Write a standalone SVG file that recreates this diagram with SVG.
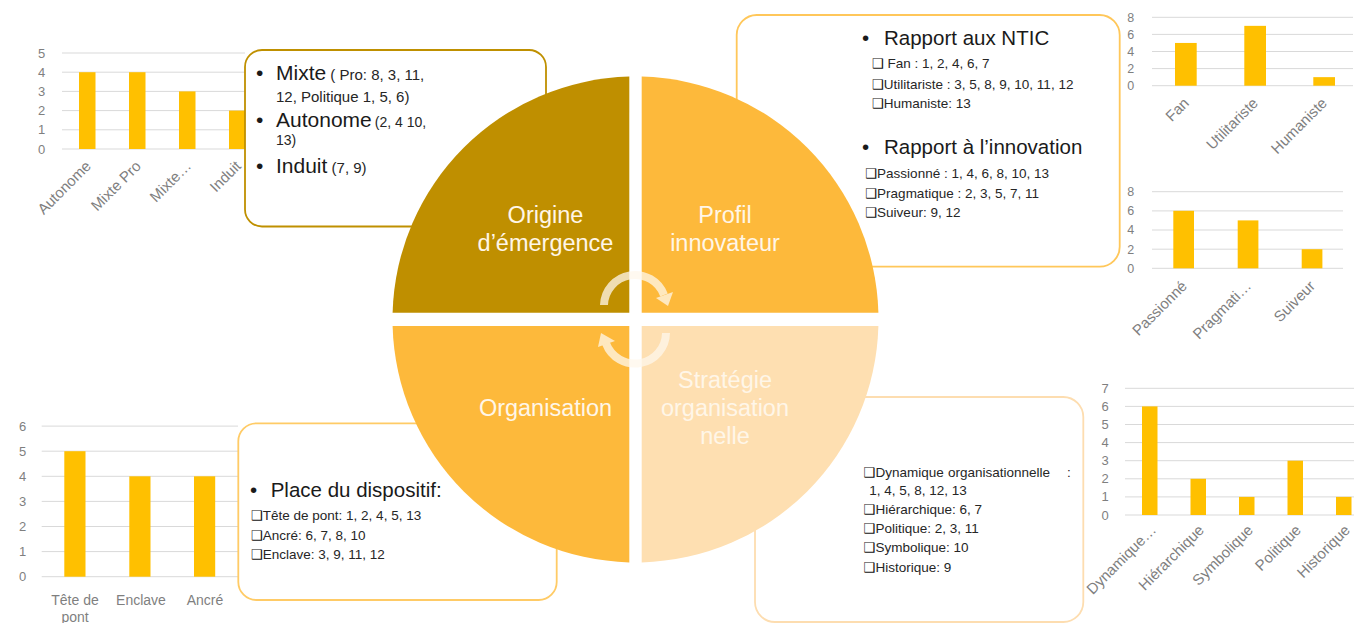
<svg xmlns="http://www.w3.org/2000/svg" width="1354" height="623" viewBox="0 0 1354 623">
<style>
text{font-family:"Liberation Sans","DejaVu Sans",sans-serif;}
.grid{stroke:#D9D9D9;stroke-width:1;}
.bar{fill:#FFC000;}
.ax{fill:#7F7F7F;font-size:13px;text-anchor:middle;}
.xl{fill:#7F7F7F;font-size:15px;text-anchor:end;}
.xh{fill:#7F7F7F;font-size:14px;text-anchor:middle;}
.box{fill:#FFFFFF;stroke-width:1.8;}
.big{fill:#1A1A1A;font-size:21px;}
.sm{fill:#262626;font-size:15px;}
.it{fill:#262626;font-size:13.5px;}
.cb{font-family:"DejaVu Sans",sans-serif;font-weight:bold;fill:#111;}
.qt{fill:#FFF6E8;font-size:23.5px;text-anchor:middle;}
</style>
<rect width="1354" height="623" fill="#FFFFFF"/>

<!-- Chart: origine d'émergence -->
<g id="chart-origine">
<g class="grid"><line x1="62" y1="149" x2="245" y2="149"/><line x1="62" y1="129.8" x2="245" y2="129.8"/><line x1="62" y1="110.6" x2="245" y2="110.6"/><line x1="62" y1="91.4" x2="245" y2="91.4"/><line x1="62" y1="72.2" x2="245" y2="72.2"/><line x1="62" y1="53" x2="245" y2="53"/></g>
<text class="ax" x="41.7" y="153.5">0</text><text class="ax" x="41.7" y="134.3">1</text><text class="ax" x="41.7" y="115.1">2</text><text class="ax" x="41.7" y="95.9">3</text><text class="ax" x="41.7" y="76.7">4</text><text class="ax" x="41.7" y="57.5">5</text>
<rect class="bar" x="79" y="72.2" width="16.5" height="76.8"/><rect class="bar" x="129" y="72.2" width="16.5" height="76.8"/><rect class="bar" x="179" y="91.4" width="16.5" height="57.6"/><rect class="bar" x="229" y="110.6" width="16.5" height="38.4"/>
<text class="xl" transform="translate(92,167) rotate(-45)">Autonome</text>
<text class="xl" transform="translate(142,167) rotate(-45)">Mixte Pro</text>
<text class="xl" transform="translate(192,167) rotate(-45)">Mixte…</text>
<text class="xl" transform="translate(242,167) rotate(-45)">Induit</text>
</g>

<!-- Chart: rapport aux NTIC -->
<g id="chart-ntic">
<g class="grid"><line x1="1152" y1="85.7" x2="1353" y2="85.7"/><line x1="1152" y1="68.6" x2="1353" y2="68.6"/><line x1="1152" y1="51.5" x2="1353" y2="51.5"/><line x1="1152" y1="34.4" x2="1353" y2="34.4"/><line x1="1152" y1="17.3" x2="1353" y2="17.3"/></g>
<text class="ax" x="1130.7" y="90" style="font-size:12.5px">0</text><text class="ax" x="1130.7" y="72.9" style="font-size:12.5px">2</text><text class="ax" x="1130.7" y="55.8" style="font-size:12.5px">4</text><text class="ax" x="1130.7" y="38.7" style="font-size:12.5px">6</text><text class="ax" x="1130.7" y="21.6" style="font-size:12.5px">8</text>
<rect class="bar" x="1175" y="42.95" width="21.7" height="42.75"/><rect class="bar" x="1244.3" y="25.85" width="21.7" height="59.85"/><rect class="bar" x="1313.3" y="77.15" width="21.7" height="8.55"/>
<text class="xl" transform="translate(1190,104) rotate(-45)">Fan</text>
<text class="xl" transform="translate(1259,104) rotate(-45)">Utilitariste</text>
<text class="xl" transform="translate(1328,104) rotate(-45)">Humaniste</text>
</g>

<!-- Chart: rapport à l'innovation -->
<g id="chart-innovation">
<g class="grid"><line x1="1152" y1="268.3" x2="1343" y2="268.3"/><line x1="1152" y1="249.2" x2="1343" y2="249.2"/><line x1="1152" y1="230" x2="1343" y2="230"/><line x1="1152" y1="210.9" x2="1343" y2="210.9"/><line x1="1152" y1="191.7" x2="1343" y2="191.7"/></g>
<text class="ax" x="1130.7" y="272.6" style="font-size:12.5px">0</text><text class="ax" x="1130.7" y="253.5" style="font-size:12.5px">2</text><text class="ax" x="1130.7" y="234.3" style="font-size:12.5px">4</text><text class="ax" x="1130.7" y="215.2" style="font-size:12.5px">6</text><text class="ax" x="1130.7" y="196" style="font-size:12.5px">8</text>
<rect class="bar" x="1173.3" y="210.8" width="20.7" height="57.5"/><rect class="bar" x="1237.7" y="220.4" width="20.7" height="47.9"/><rect class="bar" x="1301.7" y="249.2" width="20.7" height="19.1"/>
<text class="xl" transform="translate(1188,287) rotate(-45)">Passionné</text>
<text class="xl" transform="translate(1252,287) rotate(-45)">Pragmati…</text>
<text class="xl" transform="translate(1316,287) rotate(-45)">Suiveur</text>
</g>

<!-- Chart: place du dispositif -->
<g id="chart-dispositif">
<g class="grid"><line x1="41.7" y1="576.7" x2="238" y2="576.7"/><line x1="41.7" y1="551.6" x2="238" y2="551.6"/><line x1="41.7" y1="526.5" x2="238" y2="526.5"/><line x1="41.7" y1="501.4" x2="238" y2="501.4"/><line x1="41.7" y1="476.3" x2="238" y2="476.3"/><line x1="41.7" y1="451.2" x2="238" y2="451.2"/><line x1="41.7" y1="426.1" x2="238" y2="426.1"/></g>
<text class="ax" x="22.7" y="581.2">0</text><text class="ax" x="22.7" y="556.1">1</text><text class="ax" x="22.7" y="531">2</text><text class="ax" x="22.7" y="505.9">3</text><text class="ax" x="22.7" y="480.8">4</text><text class="ax" x="22.7" y="455.7">5</text><text class="ax" x="22.7" y="430.6">6</text>
<rect class="bar" x="64.3" y="451.2" width="21.2" height="125.5"/><rect class="bar" x="129.3" y="476.3" width="21.2" height="100.4"/><rect class="bar" x="194" y="476.3" width="21.2" height="100.4"/>
<text class="xh" x="75" y="605">Tête de</text><text class="xh" x="75" y="622">pont</text>
<text class="xh" x="141" y="605">Enclave</text>
<text class="xh" x="205" y="605">Ancré</text>
</g>

<!-- Chart: stratégie organisationnelle -->
<g id="chart-strategie">
<g class="grid"><line x1="1125" y1="515" x2="1354" y2="515"/><line x1="1125" y1="496.9" x2="1354" y2="496.9"/><line x1="1125" y1="478.8" x2="1354" y2="478.8"/><line x1="1125" y1="460.7" x2="1354" y2="460.7"/><line x1="1125" y1="442.6" x2="1354" y2="442.6"/><line x1="1125" y1="424.5" x2="1354" y2="424.5"/><line x1="1125" y1="406.4" x2="1354" y2="406.4"/><line x1="1125" y1="388.3" x2="1354" y2="388.3"/></g>
<text class="ax" x="1105" y="519.5">0</text><text class="ax" x="1105" y="501.4">1</text><text class="ax" x="1105" y="483.3">2</text><text class="ax" x="1105" y="465.2">3</text><text class="ax" x="1105" y="447.1">4</text><text class="ax" x="1105" y="429">5</text><text class="ax" x="1105" y="410.9">6</text><text class="ax" x="1105" y="392.8">7</text>
<rect class="bar" x="1142" y="406.4" width="15.5" height="108.6"/><rect class="bar" x="1190.5" y="478.8" width="15.5" height="36.2"/><rect class="bar" x="1239" y="496.9" width="15.5" height="18.1"/><rect class="bar" x="1287.5" y="460.7" width="15.5" height="54.3"/><rect class="bar" x="1336" y="496.9" width="15.5" height="18.1"/>
<text class="xl" transform="translate(1157,531) rotate(-45)">Dynamique…</text>
<text class="xl" transform="translate(1205,531) rotate(-45)">Hiérarchique</text>
<text class="xl" transform="translate(1254,531) rotate(-45)">Symbolique</text>
<text class="xl" transform="translate(1302,531) rotate(-45)">Politique</text>
<text class="xl" transform="translate(1351,531) rotate(-45)">Historique</text>
</g>

<!-- Text boxes -->
<g id="box-origine">
<rect class="box" x="245" y="50" width="301" height="176.5" rx="17" stroke="#BF9000"/>
<text class="big" x="256" y="80">•</text>
<text x="276" y="80"><tspan class="big">Mixte</tspan><tspan class="sm"> ( Pro: 8, 3, 11,</tspan></text>
<text class="sm" x="276" y="101.7">12, Politique 1, 5, 6)</text>
<text class="big" x="256" y="126.7">•</text>
<text x="276" y="126.7"><tspan class="big">Autonome</tspan><tspan class="sm" dx="3" style="font-size:14px">(2, 4 10,</tspan></text>
<text class="sm" x="276" y="145" style="font-size:14px">13)</text>
<text class="big" x="256" y="173.3">•</text>
<text x="276" y="173.3"><tspan class="big">Induit</tspan><tspan class="sm"> (7, 9)</tspan></text>
</g>

<g id="box-profil">
<rect class="box" x="736.7" y="15" width="383" height="251.7" rx="20" stroke="#FFC75A"/>
<text class="big" x="862" y="45" style="font-size:20.5px">•</text>
<text class="big" x="884" y="45" style="font-size:20.5px">Rapport aux NTIC</text>
<text class="it" x="871.7" y="68.3"><tspan class="cb">❑</tspan> Fan : 1, 2, 4, 6, 7</text>
<text class="it" x="871.7" y="89"><tspan class="cb">❑</tspan>Utilitariste : 3, 5, 8, 9, 10, 11, 12</text>
<text class="it" x="871.7" y="108.3"><tspan class="cb">❑</tspan>Humaniste:  13</text>
<text class="big" x="862" y="154" style="font-size:20.5px">•</text>
<text class="big" x="884" y="154" style="font-size:20.5px">Rapport à l’innovation</text>
<text class="it" x="865" y="178.3"><tspan class="cb">❑</tspan>Passionné : 1, 4, 6, 8, 10, 13</text>
<text class="it" x="865" y="197.7"><tspan class="cb">❑</tspan>Pragmatique  : 2, 3, 5, 7, 11</text>
<text class="it" x="865" y="217.3"><tspan class="cb">❑</tspan>Suiveur:  9, 12</text>
</g>

<g id="box-organisation">
<rect class="box" x="238.3" y="423.3" width="318.4" height="176.7" rx="18" stroke="#FFCB66"/>
<text class="big" x="250" y="496.7" style="font-size:20.5px">•</text>
<text class="big" x="270.7" y="496.7" style="font-size:20.5px">Place du dispositif:</text>
<text class="it" x="250.7" y="520"><tspan class="cb">❑</tspan>Tête de pont: 1, 2, 4, 5, 13</text>
<text class="it" x="250.7" y="540"><tspan class="cb">❑</tspan>Ancré:  6, 7, 8, 10</text>
<text class="it" x="250.7" y="559"><tspan class="cb">❑</tspan>Enclave: 3, 9, 11, 12</text>
</g>

<g id="box-strategie">
<rect class="box" x="755" y="397" width="328.3" height="225" rx="20" stroke="#FDDDB0"/>
<text class="it" y="476.7"><tspan x="863.3" class="cb">❑</tspan><tspan>Dynamique</tspan><tspan x="948">organisationnelle</tspan><tspan x="1067">:</tspan></text>
<text class="it" x="869.3" y="495.3">1, 4, 5, 8, 12, 13</text>
<text class="it" x="863.3" y="514"><tspan class="cb">❑</tspan>Hiérarchique:  6, 7</text>
<text class="it" x="863.3" y="533.3"><tspan class="cb">❑</tspan>Politique: 2, 3, 11</text>
<text class="it" x="863.3" y="552.3"><tspan class="cb">❑</tspan>Symbolique:  10</text>
<text class="it" x="863.3" y="572"><tspan class="cb">❑</tspan>Historique:  9</text>
</g>

<!-- Cycle quadrants -->
<g id="q-origine">
<path d="M629.3 312.7 V76.6 A243 243 0 0 0 392.6 312.7 Z" fill="#BF8F00"/>
<text class="qt" x="545.5" y="223">Origine</text>
<text class="qt" x="545.5" y="250.5">d’émergence</text>
</g>
<g id="q-profil">
<path d="M641.7 312.7 V76.6 A243 243 0 0 1 878.4 312.7 Z" fill="#FDB93B"/>
<text class="qt" x="725" y="223">Profil</text>
<text class="qt" x="725" y="250.5">innovateur</text>
</g>
<g id="q-organisation">
<path d="M629.3 326 V562.4 A243 243 0 0 1 392.6 326 Z" fill="#FDB93B"/>
<text class="qt" x="545.5" y="415.5">Organisation</text>
</g>
<g id="q-strategie">
<path d="M641.7 326 V562.4 A243 243 0 0 0 878.4 326 Z" fill="#FEDFB1"/>
<text class="qt" x="725" y="387.5">Stratégie</text>
<text class="qt" x="725" y="415.5">organisation</text>
<text class="qt" x="725" y="443.5">nelle</text>
</g>

<!-- Connectors: circular arrows -->
<g id="connectors" opacity="0.75">
<path d="M604 305 A31 31 0 0 1 664 295" fill="none" stroke="#FFF8EC" stroke-width="8"/>
<polygon points="673,292 656,298 668,306" fill="#FFF8EC"/>
<path d="M666 333 A31 31 0 0 1 606 343.5" fill="none" stroke="#FFF8EC" stroke-width="8"/>
<polygon points="615,341 598,347 601,333" fill="#FFF8EC"/>
</g>
</svg>
